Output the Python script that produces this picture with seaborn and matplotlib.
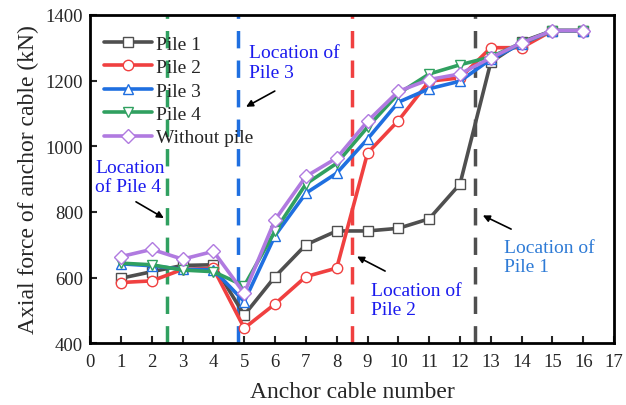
import matplotlib
matplotlib.use("Agg")
import matplotlib.pyplot as plt
import seaborn as sns
import pandas as pd

cable = list(range(1, 17))
pile1 = [598, 618, 637, 639, 486, 603, 700, 742, 742, 750, 779, 885, 1256, 1318, 1352, 1352]
pile2 = [585, 590, 625, 628, 446, 520, 603, 629, 979, 1078, 1198, 1208, 1300, 1300, 1352, 1352]
pile3 = [642, 636, 625, 624, 527, 728, 857, 918, 1022, 1134, 1175, 1198, 1265, 1312, 1352, 1352]
pile4 = [644, 639, 623, 618, 575, 742, 885, 948, 1058, 1160, 1220, 1248, 1272, 1314, 1352, 1352]
nopile = [664, 686, 656, 680, 552, 776, 908, 964, 1076, 1167, 1203, 1220, 1269, 1315, 1352, 1352]

series_names = ["Pile 1", "Pile 2", "Pile 3", "Pile 4", "Without pile"]
series_vals = [pile1, pile2, pile3, pile4, nopile]
colors = ["#4f4f4f", "#f04040", "#1f6fe0", "#30a060", "#b07ae0"]
markers = ["s", "o", "^", "v", "D"]

pile_pos = [12.5, 8.5, 4.8, 2.5]
pile_colors = ["#4f4f4f", "#f04040", "#1f6fe0", "#30a060"]

sns.set_style("ticks")
plt.rcParams["font.family"] = ["Liberation Serif", "DejaVu Serif"]
plt.rcParams["mathtext.fontset"] = "stix"

fig = plt.figure(figsize=(6.26, 4.06), dpi=100)
ax = fig.add_axes([0.144, 0.152, 0.837, 0.809])

for xv, c in zip(pile_pos, pile_colors):
    ax.axvline(xv, color=c, lw=2.5, ls=(0, (5, 3.5)), zorder=1)

for name, vals, c, m in zip(series_names, series_vals, colors, markers):
    df = pd.DataFrame({"cable": cable, "force": vals})
    ms = 7.5 if m != "D" else 7
    sns.lineplot(data=df, x="cable", y="force", ax=ax, color=c, lw=2.6,
                 marker=m, markersize=ms, markerfacecolor="white",
                 markeredgecolor=c, markeredgewidth=1.0, label=name, zorder=3)

ax.set_xlim(0, 17)
ax.set_ylim(400, 1400)
ax.set_xticks(range(0, 18))
ax.set_yticks(range(400, 1401, 200))
ax.tick_params(axis="both", direction="in", length=5, width=1.5, labelsize=13.5,
               top=False, right=False)
ax.tick_params(axis="x", pad=7)
ax.tick_params(axis="y", pad=5)
for s in ax.spines.values():
    s.set_linewidth(2)
    s.set_color("black")
ax.set_xlabel("Anchor cable number", fontsize=17, labelpad=8)
ax.set_ylabel("Axial force of anchor cable (kN)", fontsize=17, labelpad=5)

leg = ax.legend(loc="upper left", frameon=False, fontsize=14, handlelength=2.5,
                handletextpad=0.2, labelspacing=0.3, borderaxespad=0.3,
                bbox_to_anchor=(0.0, 0.98))

blue = "#1a1aee"
fs = 14
ax.text(5.17, 1311, "Location of\nPile 3", color=blue, fontsize=fs, va="top", ha="left", linespacing=1.2)
ax.annotate("", xy=(4.98, 1116), xytext=(6.07, 1172),
            arrowprops=dict(arrowstyle="-|>", color="black", lw=1.2, mutation_scale=10))
ax.text(0.16, 962, "Location\nof Pile 4", color=blue, fontsize=fs, va="top", ha="left", linespacing=1.2)
ax.annotate("", xy=(2.47, 777), xytext=(1.41, 835),
            arrowprops=dict(arrowstyle="-|>", color="black", lw=1.2, mutation_scale=10))
ax.text(9.1, 588, "Location of\nPile 2", color=blue, fontsize=fs, va="top", ha="left", linespacing=1.2)
ax.annotate("", xy=(8.58, 668), xytext=(9.65, 616),
            arrowprops=dict(arrowstyle="-|>", color="black", lw=1.2, mutation_scale=10))
ax.text(13.43, 719, "Location of\nPile 1", color="#2e7bd6", fontsize=fs, va="top", ha="left", linespacing=1.2)
ax.annotate("", xy=(12.66, 793), xytext=(13.74, 744),
            arrowprops=dict(arrowstyle="-|>", color="black", lw=1.2, mutation_scale=10))

fig.savefig("out.png", dpi=100)
